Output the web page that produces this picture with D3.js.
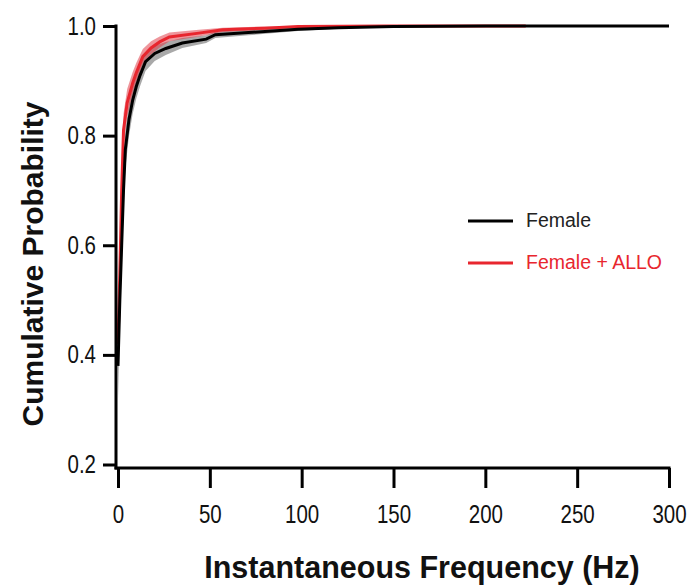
<!DOCTYPE html>
<html>
<head>
<meta charset="utf-8">
<script src="https://cdn.jsdelivr.net/npm/d3@7"></script>
<style>
  html, body { margin: 0; padding: 0; background: #fff; }
  svg { display: block; }
</style>
</head>
<body>
<svg id="chart" width="689" height="585"></svg>
<script>
// ---- data ----
const hzFemale  = [0, 1, 2, 3, 4, 6, 8, 10, 12, 15, 20, 26, 35, 48, 53, 71, 98, 120, 150, 200, 300];
const cdfFemale = [0.38, 0.50, 0.60, 0.70, 0.775, 0.83, 0.865, 0.89, 0.91, 0.935, 0.95, 0.959, 0.969, 0.976, 0.984, 0.988, 0.994, 0.997, 0.999, 1.0, 1.0];
const semFemale = [0.06, 0.05, 0.045, 0.04, 0.035, 0.03, 0.025, 0.022, 0.02, 0.017, 0.014, 0.012, 0.009, 0.007, 0.006, 0.005, 0.003, 0.002, 0.001, 0, 0];

const hzAllo  = [0, 1, 2, 3, 5, 8, 10, 13.5, 18, 22.7, 28, 44, 57, 80, 98, 145, 222];
const cdfAllo = [0.42, 0.55, 0.70, 0.81, 0.86, 0.896, 0.915, 0.944, 0.96, 0.971, 0.98, 0.987, 0.993, 0.996, 0.999, 1.0, 1.0];
const semAllo = [0.04, 0.04, 0.04, 0.03, 0.025, 0.02, 0.018, 0.014, 0.012, 0.01, 0.008, 0.006, 0.004, 0.003, 0.001, 0, 0];

const xTicks = [0, 50, 100, 150, 200, 250, 300];
const yTicks = [0.2, 0.4, 0.6, 0.8, 1.0];
const seriesNames = ["Female", "Female + ALLO"];
const xTitle = "Instantaneous Frequency (Hz)";
const yTitle = "Cumulative Probability";

// ---- layout ----
const svg = d3.select("#chart");
const x = d3.scaleLinear().domain([0, 300]).range([118, 669]);
const y = d3.scaleLinear().domain([0.2, 1.0]).range([464.5, 26]);
const AX = 116, AY = 468;
const STRETCH = 1.22; // condensed tick font: narrow glyphs stretched vertically

const RED = "#e8262e";
const tickFont = "'Liberation Sans', Arial, sans-serif";
const titleFont = "'Liberation Sans', Arial, sans-serif";

function mk(hz, cdf, sem) {
  return hz.map((h, i) => ({ h, v: cdf[i], lo: Math.max(0.2, cdf[i] - sem[i]), hi: Math.min(1.0, cdf[i] + sem[i]) }));
}
const female = mk(hzFemale, cdfFemale, semFemale);
const allo = mk(hzAllo, cdfAllo, semAllo);

const area = d3.area().x(d => x(d.h)).y0(d => y(d.lo)).y1(d => y(d.hi));
const line = d3.line().x(d => x(d.h)).y(d => y(d.v));

// bands
svg.append("path").datum(female).attr("d", area).attr("fill", "#8c8c8c").attr("fill-opacity", 0.75);
svg.append("path").datum(allo).attr("d", area).attr("fill", "#e0404a").attr("fill-opacity", 0.55);
// lines
svg.append("path").datum(allo).attr("d", line).attr("fill", "none").attr("stroke", RED).attr("stroke-width", 3);
svg.append("path").datum(female).attr("d", line).attr("fill", "none").attr("stroke", "#000").attr("stroke-width", 3);

// axes
const yAxis = d3.axisLeft(y).tickValues(yTicks).tickFormat(d3.format(".1f")).tickSize(13).tickPadding(7);
const gy = svg.append("g").attr("transform", `translate(${AX},0)`).call(yAxis);
const xAxis = d3.axisBottom(x).tickValues(xTicks).tickFormat(d3.format("d")).tickSize(20).tickPadding(17);
const gx = svg.append("g").attr("transform", `translate(0,${AY})`).call(xAxis);

[gx, gy].forEach(g => {
  g.select(".domain").remove();
  g.selectAll(".tick line").attr("stroke", "#000").attr("stroke-width", 3);
  g.selectAll(".tick text").attr("font-family", tickFont).attr("font-size", 25 / STRETCH).attr("fill", "#111")
    .each(function () {
      const t = d3.select(this);
      const yy = +t.attr("y") || 0;
      t.attr("y", yy / STRETCH).attr("transform", `scale(1,${STRETCH})`);
    });
});
// axis lines
svg.append("line").attr("x1", AX).attr("x2", AX).attr("y1", y(1.0) - 1.5).attr("y2", AY + 1.5)
  .attr("stroke", "#000").attr("stroke-width", 3);
svg.append("line").attr("x1", AX - 1.5).attr("x2", x(300) + 1.5).attr("y1", AY).attr("y2", AY)
  .attr("stroke", "#000").attr("stroke-width", 3);

// titles
svg.append("text").attr("x", 422).attr("y", 578).attr("text-anchor", "middle")
  .attr("font-family", titleFont).attr("font-weight", "bold").attr("font-size", 30.5).attr("fill", "#111")
  .text(xTitle);
svg.append("text").attr("transform", "translate(43,264) rotate(-90)").attr("text-anchor", "middle")
  .attr("font-family", titleFont).attr("font-weight", "bold").attr("font-size", 30).attr("fill", "#111")
  .text(yTitle);

// legend
const legColors = ["#000", RED];
const legText = ["#222", RED];
seriesNames.forEach((name, i) => {
  const ly = 221 + i * 42;
  svg.append("line").attr("x1", 468).attr("x2", 513).attr("y1", ly).attr("y2", ly)
    .attr("stroke", legColors[i]).attr("stroke-width", 3);
  svg.append("text").attr("x", 526).attr("y", ly + 6).attr("font-family", titleFont)
    .attr("font-size", 19.5).attr("fill", legText[i]).text(name);
});
</script>
</body>
</html>
